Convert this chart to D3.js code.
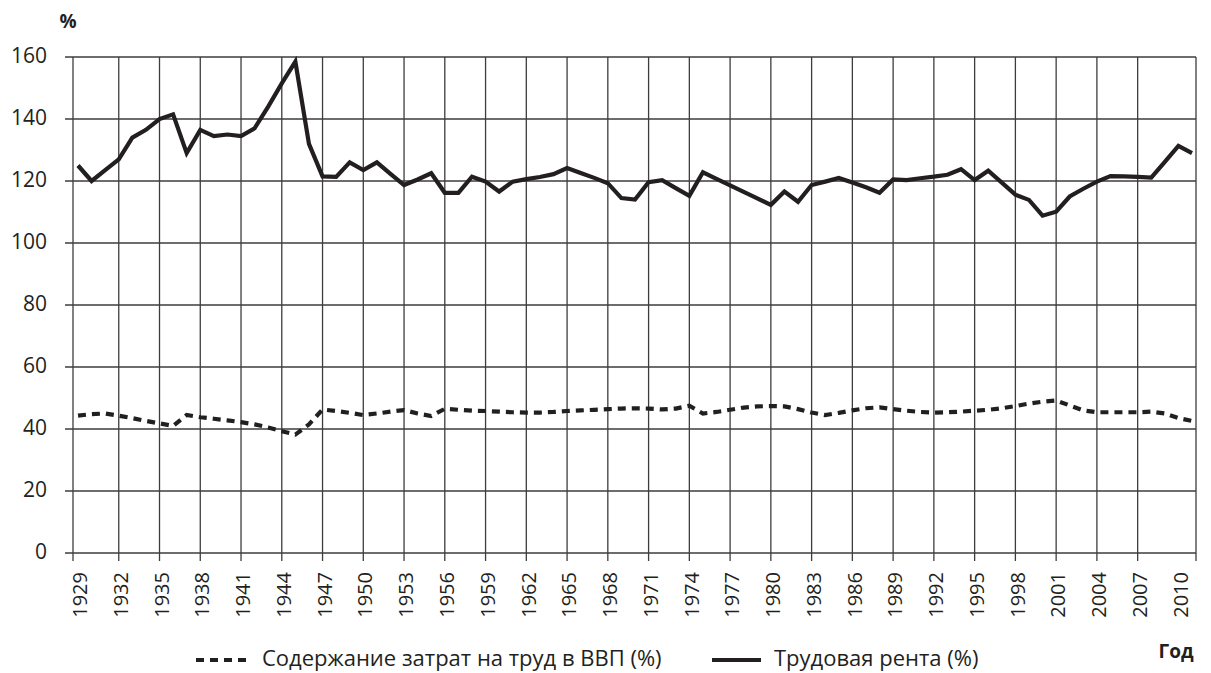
<!DOCTYPE html>
<html>
<head>
<meta charset="utf-8">
<script src="https://cdn.jsdelivr.net/npm/d3@7"></script>
<style>
  body { margin: 0; background: #fff; }
  text { font-family: "Open Sans", "Noto Sans", sans-serif; fill: #231f20; }
</style>
</head>
<body>
<div id="chart"></div>
<script>
var years = d3.range(1929, 2012);
var yearLabels = d3.range(1929, 2011, 3);
var yTicks = [0, 20, 40, 60, 80, 100, 120, 140, 160];

// Содержание затрат на труд в ВВП (%)
var laborShare = [
  44.3, 44.8, 45.0, 44.3, 43.5, 42.6, 41.8, 41.0, 44.5, 43.8,
  43.3, 42.8, 42.2, 41.5, 40.5, 39.3, 38.2, 41.5, 46.3, 45.8,
  45.2, 44.5, 45.0, 45.6, 46.1, 45.0, 44.2, 46.5, 46.2, 45.9,
  45.8, 45.6, 45.4, 45.3, 45.3, 45.5, 45.8, 46.0, 46.2, 46.4,
  46.6, 46.7, 46.6, 46.3, 46.6, 47.5, 45.0, 45.5, 46.2, 46.9,
  47.3, 47.4, 47.3, 46.4, 45.3, 44.5, 45.2, 46.0, 46.7, 47.0,
  46.4, 45.9, 45.5, 45.3, 45.4, 45.6, 45.9, 46.2, 46.7, 47.4,
  48.2, 48.8, 49.2, 47.6, 46.0, 45.4, 45.4, 45.4, 45.4, 45.6,
  45.0, 43.5, 42.6
];

// Трудовая рента (%)
var laborRent = [
  125.0, 120.0, 123.5, 127.0, 134.0, 136.5, 140.0, 141.5, 129.0, 136.5,
  134.5, 135.0, 134.5, 137.0, 144.0, 151.5, 158.5, 132.0, 121.5, 121.3,
  126.0, 123.5, 126.0, 122.3, 118.7, 120.5, 122.5, 116.2, 116.2, 121.4,
  119.8, 116.6, 119.8, 120.6, 121.3, 122.2, 124.2, 122.6, 121.0, 119.3,
  114.5, 114.0, 119.6, 120.3, 117.7, 115.2, 122.8, 120.7, 118.6, 116.5,
  114.4, 112.3, 116.6, 113.3, 118.7, 119.8, 121.0, 119.5, 118.0, 116.2,
  120.5, 120.3, 120.9, 121.4, 122.0, 123.8, 120.3, 123.3, 119.5, 115.6,
  113.9, 108.8, 110.1, 115.0, 117.5, 119.8, 121.6, 121.5, 121.3, 121.1,
  126.2, 131.3, 129.0
];

var seriesNames = ["Содержание затрат на труд в ВВП (%)", "Трудовая рента (%)"];

var width = 1211, height = 673;
var plotLeft = 73, plotRight = 1196, plotTop = 57, plotBottom = 554;
var ink = "#231f20", gridColor = "#3d3d3d";

var svg = d3.select("#chart").append("svg")
  .attr("width", width).attr("height", height);

var x = d3.scaleLinear().domain([1929, 2011]).range([78, 1192]);
var y = d3.scaleLinear().domain([0, 160]).range([553, 57]);

// horizontal gridlines (extend left as ticks)
svg.append("g").selectAll("line").data(yTicks).enter().append("line")
  .attr("x1", plotLeft - 8).attr("x2", plotRight)
  .attr("y1", function(d) { return y(d); })
  .attr("y2", function(d) { return y(d); })
  .attr("stroke", gridColor).attr("stroke-width", 1.3);

// vertical gridlines every 3 years (ends are the frame)
var vGrid = yearLabels.filter(function(d) { return d > 1929 && d < 2010; });
svg.append("g").selectAll("line").data(vGrid).enter().append("line")
  .attr("x1", function(d) { return x(d); })
  .attr("x2", function(d) { return x(d); })
  .attr("y1", plotTop).attr("y2", y(0) + 8)
  .attr("stroke", gridColor).attr("stroke-width", 1.3);

// frame left / right
svg.append("line").attr("x1", plotLeft).attr("x2", plotLeft)
  .attr("y1", plotTop).attr("y2", y(0) + 8)
  .attr("stroke", gridColor).attr("stroke-width", 1.3);
svg.append("line").attr("x1", plotRight).attr("x2", plotRight)
  .attr("y1", plotTop).attr("y2", y(0) + 8)
  .attr("stroke", gridColor).attr("stroke-width", 1.3);

// y labels
svg.append("g").selectAll("text").data(yTicks).enter().append("text")
  .attr("x", 47)
  .attr("y", function(d) { return y(d); })
  .attr("dy", "0.28em")
  .attr("text-anchor", "end")
  .attr("font-size", "21px")
  .text(function(d) { return d; });

svg.append("text").attr("x", 68).attr("y", 28)
  .attr("text-anchor", "middle")
  .attr("font-size", "19px").attr("font-weight", "bold")
  .text("%");

// x labels rotated
svg.append("g").selectAll("text").data(yearLabels).enter().append("text")
  .attr("transform", function(d) {
    return "translate(" + (x(d) + 2) + "," + 572 + ") rotate(-90)";
  })
  .attr("dy", "0.36em")
  .attr("text-anchor", "end")
  .attr("font-size", "20px")
  .text(function(d) { return d; });

svg.append("text").attr("x", 1176).attr("y", 658)
  .attr("text-anchor", "middle")
  .attr("font-size", "19px").attr("font-weight", "bold")
  .text("Год");

// lines
var line = d3.line()
  .x(function(d, i) { return x(years[i]); })
  .y(function(d) { return y(d); });

svg.append("path").datum(laborRent)
  .attr("d", line)
  .attr("fill", "none").attr("stroke", ink)
  .attr("stroke-width", 4.2).attr("stroke-linejoin", "miter");

svg.append("path").datum(laborShare)
  .attr("d", line)
  .attr("fill", "none").attr("stroke", ink)
  .attr("stroke-width", 4.2).attr("stroke-dasharray", "8,6");

// legend
var legend = svg.append("g");
legend.append("line").attr("x1", 196).attr("x2", 250).attr("y1", 660).attr("y2", 660)
  .attr("stroke", ink).attr("stroke-width", 4.2).attr("stroke-dasharray", "8,6");
legend.append("text").attr("x", 262).attr("y", 658).attr("dy", "0.35em")
  .attr("font-size", "22px").text(seriesNames[0]);
legend.append("line").attr("x1", 712).attr("x2", 761).attr("y1", 660).attr("y2", 660)
  .attr("stroke", ink).attr("stroke-width", 4.2);
legend.append("text").attr("x", 774).attr("y", 658).attr("dy", "0.35em")
  .attr("font-size", "22px").text(seriesNames[1]);
</script>
</body>
</html>
